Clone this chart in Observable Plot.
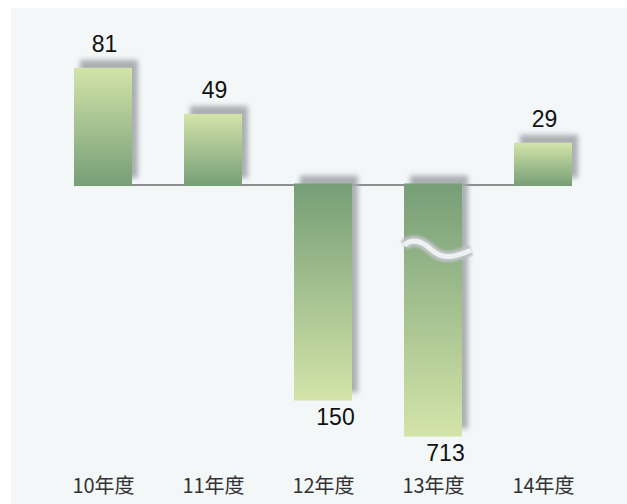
<!DOCTYPE html>
<html><head><meta charset="utf-8">
<script src="https://cdn.jsdelivr.net/npm/d3@7"></script>
<script src="https://cdn.jsdelivr.net/npm/@observablehq/plot@0.6"></script>
<style>
html,body{margin:0;padding:0;background:#ffffff;}
#chart{position:absolute;left:11px;top:8px;width:616px;height:496px;background:#f3f7f8;}
#chart svg{display:block;}
</style></head><body><div id="chart"></div>
<script>
const categories = ["10年度", "11年度", "12年度", "13年度", "14年度"];
const values = [81, 49, -150, -713, 29];
const breakCap = 175;   // longest bar length shown (axis break beyond this)
const breakMark = 45;   // depth of the wavy break mark on the broken bar

const data = categories.map((c, i) => ({
  cat: c,
  value: values[i],
  shown: Math.sign(values[i]) * Math.min(Math.abs(values[i]), breakCap),
  label: String(Math.abs(values[i]))
}));
const pos = data.filter(d => d.value > 0);
const neg = data.filter(d => d.value < 0);

const plot = Plot.plot({
  width: 616, height: 496,
  marginTop: 0, marginLeft: 0, marginRight: 0, marginBottom: 34,
  style: {background: "#f3f7f8", overflow: "visible", fontFamily: "'Noto Sans CJK SC', sans-serif"},
  x: {type: "band", domain: categories, range: [9.5, 615], padding: 0.475, label: null},
  y: {domain: [0, 100], range: [176.5, 32.5], axis: null},
  marks: [
    Plot.lineY(categories, {x: d => d, y: () => 0, stroke: "#8e8e8e", strokeWidth: 2}),
    Plot.barY(pos, {x: "cat", y: "shown", fill: "url(#gradPos)", insetBottom: -1.5}),
    Plot.barY(neg, {x: "cat", y: "shown", fill: "url(#gradNeg)", insetTop: -1}),
    Plot.text(pos, {x: "cat", y: "shown", text: "label", lineAnchor: "bottom", dy: -16, dx: 1,
      fontSize: 23, fontFamily: "'Liberation Sans', Arial, sans-serif", fill: "#111"}),
    Plot.text(neg, {x: "cat", y: "shown", text: "label", lineAnchor: "top", dy: 8, dx: 12,
      fontSize: 23, fontFamily: "'Liberation Sans', Arial, sans-serif", fill: "#111"}),
    Plot.axisX({tickSize: 0, tickPadding: 8, fontSize: 20, color: "#333", label: null})
  ]
});

const svg = d3.select(plot);
const defs = svg.insert("defs", ":first-child");
const light = "#d3e4a9", dark = "#769e77";
const gp = defs.append("linearGradient").attr("id", "gradPos").attr("x1", 0).attr("y1", 0).attr("x2", 0).attr("y2", 1);
gp.append("stop").attr("offset", "0%").attr("stop-color", light);
gp.append("stop").attr("offset", "100%").attr("stop-color", dark);
const gn = defs.append("linearGradient").attr("id", "gradNeg").attr("x1", 0).attr("y1", 0).attr("x2", 0).attr("y2", 1);
gn.append("stop").attr("offset", "0%").attr("stop-color", dark);
gn.append("stop").attr("offset", "100%").attr("stop-color", light);
const f = defs.append("filter").attr("id", "shadow").attr("x", "-30%").attr("y", "-30%").attr("width", "160%").attr("height", "160%");
f.append("feDropShadow").attr("dx", 6).attr("dy", -8).attr("stdDeviation", 2.5)
  .attr("flood-color", "#a4a8ab").attr("flood-opacity", 0.9);
const fb = defs.append("filter").attr("id", "soft").attr("x", "-20%").attr("y", "-50%").attr("width", "140%").attr("height", "200%");
fb.append("feGaussianBlur").attr("stdDeviation", 1.3);
svg.selectAll('g[aria-label="bar"]').attr("filter", "url(#shadow)");

// wavy break mark on the broken bar
const xs = plot.scale("x"), ys = plot.scale("y");
const broken = data.find(d => Math.abs(d.value) > breakCap);
const x0 = xs.apply(broken.cat), bw = xs.bandwidth;
const yc = ys.apply(-breakMark);
const p = `M${x0},${yc - 4} C${x0 + 8},${yc - 11} ${x0 + 17},${yc - 9} ${x0 + 27},${yc} S${x0 + 46},${yc + 10} ${bw + x0 + 9},${yc + 1}`;
const g = svg.append("g").attr("aria-label", "break");
g.append("path").attr("d", p).attr("fill", "none").attr("stroke", "#bfc3c5").attr("stroke-width", 11).attr("filter", "url(#soft)");
g.append("path").attr("d", p).attr("fill", "none").attr("stroke", "#eef1f2").attr("stroke-width", 5);

document.getElementById("chart").appendChild(plot);
</script></body></html>
